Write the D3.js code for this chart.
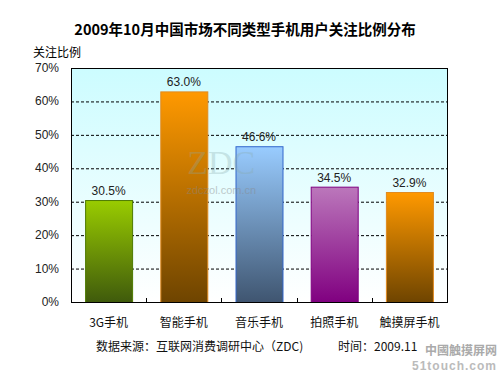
<!DOCTYPE html>
<html>
<head>
<meta charset="utf-8">
<script src="https://cdn.jsdelivr.net/npm/d3@7"></script>
<style>
  body { margin: 0; background: #fff; }
  svg { display: block; font-family: "Liberation Sans", Arial, "Noto Sans CJK SC", sans-serif; }
  .cn { font-family: "Noto Sans CJK SC", "Liberation Sans", sans-serif; }
</style>
</head>
<body>
<svg width="500" height="375"></svg>
<script>
var categories = ["3G手机", "智能手机", "音乐手机", "拍照手机", "触摸屏手机"];
var values = [30.5, 63.0, 46.6, 34.5, 32.9];
var yTicks = [0, 10, 20, 30, 40, 50, 60, 70];

// top colour, bottom colour, border colour for each bar
var barColours = [
  ["#99cc00", "#3f5a0c", "#4d7a00"],
  ["#ff9900", "#6e4400", "#e08a20"],
  ["#99ccff", "#3f5570", "#3366cc"],
  ["#bb77bb", "#800080", "#800080"],
  ["#ff9900", "#6e4400", "#e08a20"]
];

var svg = d3.select("svg"),
  margin = {top: 68, right: 53, bottom: 73, left: 71},
  width = 500 - margin.left - margin.right,
  height = 375 - margin.top - margin.bottom;

var defs = svg.append("defs");

var bg = defs.append("linearGradient").attr("id", "bg")
  .attr("x1", 0).attr("y1", 0).attr("x2", 0).attr("y2", 1);
bg.append("stop").attr("offset", "0%").attr("stop-color", "#ccfcff");
bg.append("stop").attr("offset", "100%").attr("stop-color", "#ffffff");

barColours.forEach(function(c, i) {
  var g = defs.append("linearGradient").attr("id", "bar" + i)
    .attr("x1", 0).attr("y1", 0).attr("x2", 0).attr("y2", 1);
  g.append("stop").attr("offset", "0%").attr("stop-color", c[0]);
  g.append("stop").attr("offset", "100%").attr("stop-color", c[1]);
});

var x = d3.scaleBand()
  .domain(categories)
  .range([0, width])
  .paddingInner(0.375)
  .paddingOuter(0.1875);

var y = d3.scaleLinear()
  .domain([0, 70])
  .range([height, 0]);

// title
svg.append("text")
  .attr("class", "cn")
  .attr("x", 245).attr("y", 35)
  .attr("text-anchor", "middle")
  .style("font-size", "14.5px")
  .style("font-weight", "bold")
  .text("2009年10月中国市场不同类型手机用户关注比例分布");

svg.append("text")
  .attr("class", "cn")
  .attr("x", 33).attr("y", 57)
  .style("font-size", "12px")
  .text("关注比例");

var g = svg.append("g")
  .attr("transform", "translate(" + margin.left + "," + margin.top + ")");

g.append("rect")
  .attr("width", width).attr("height", height)
  .attr("fill", "url(#bg)");

// dashed gridlines
g.append("g").selectAll("line")
  .data(yTicks.filter(function(d) { return d > 0 && d < 70; }))
  .enter().append("line")
  .attr("x1", 0).attr("x2", width)
  .attr("y1", function(d) { return y(d) + 0.5; })
  .attr("y2", function(d) { return y(d) + 0.5; })
  .attr("stroke", "#000")
  .attr("stroke-dasharray", "3,2");

// bars
g.selectAll(".bar")
  .data(values)
  .enter().append("rect")
  .attr("class", "bar")
  .attr("x", function(d, i) { return x(categories[i]) + 0.5; })
  .attr("y", function(d) { return y(d) + 0.5; })
  .attr("width", x.bandwidth())
  .attr("height", function(d) { return height - y(d); })
  .attr("fill", function(d, i) { return "url(#bar" + i + ")"; })
  .attr("stroke", function(d, i) { return barColours[i][2]; });

g.selectAll(".val")
  .data(values)
  .enter().append("text")
  .attr("class", "val")
  .attr("x", function(d, i) { return x(categories[i]) + x.bandwidth() / 2; })
  .attr("y", function(d) { return y(d) - 5; })
  .attr("text-anchor", "middle")
  .style("font-size", "12px")
  .attr("fill", "#222")
  .text(function(d) { return d.toFixed(1) + "%"; });

// ZDC watermark, drawn over the bars
var wmx = x(categories[1]) + x.bandwidth() + 14;
g.append("text")
  .attr("x", wmx).attr("y", 106)
  .attr("text-anchor", "middle")
  .style("font-family", "Liberation Serif, serif")
  .style("font-size", "34px")
  .attr("fill", "#8aa")
  .attr("opacity", 0.3)
  .text("ZDC");
g.append("text")
  .attr("x", wmx).attr("y", 126)
  .attr("text-anchor", "middle")
  .style("font-size", "11px")
  .attr("fill", "#888")
  .attr("opacity", 0.45)
  .text("zdczol.com.cn");

// frame
g.append("rect")
  .attr("x", 0.5).attr("y", 0.5)
  .attr("width", width).attr("height", height)
  .attr("fill", "none")
  .attr("stroke", "#000");

// y axis labels
g.append("g").selectAll("text")
  .data(yTicks)
  .enter().append("text")
  .attr("x", -12)
  .attr("y", function(d) { return y(d) + 4; })
  .attr("text-anchor", "end")
  .style("font-size", "12px")
  .attr("fill", "#222")
  .text(function(d) { return d + "%"; });

// category separator ticks
g.append("g").selectAll("line")
  .data(categories.slice(1))
  .enter().append("line")
  .attr("x1", function(d) { return Math.round(x(d) - x.step() * x.paddingInner() / 2) + 0.5; })
  .attr("x2", function(d) { return Math.round(x(d) - x.step() * x.paddingInner() / 2) + 0.5; })
  .attr("y1", height - 4).attr("y2", height)
  .attr("stroke", "#000");

// category labels
g.append("g").selectAll("text")
  .data(categories)
  .enter().append("text")
  .attr("class", "cn")
  .attr("x", function(d) { return x(d) + x.bandwidth() / 2; })
  .attr("y", height + 25)
  .attr("text-anchor", "middle")
  .style("font-size", "12px")
  .attr("fill", "#111")
  .text(function(d) { return d; });

svg.append("text")
  .attr("class", "cn")
  .attr("x", 96).attr("y", 351)
  .style("font-size", "12px")
  .attr("fill", "#111")
  .text("数据来源：互联网消费调研中心（ZDC)");

svg.append("text")
  .attr("class", "cn")
  .attr("x", 338).attr("y", 351)
  .style("font-size", "12px")
  .attr("fill", "#111")
  .text("时间：2009.11");

// site watermark
svg.append("text")
  .attr("class", "cn")
  .attr("x", 497).attr("y", 355)
  .attr("text-anchor", "end")
  .style("font-size", "12px")
  .style("font-weight", "bold")
  .attr("fill", "#aaa")
  .text("中國触摸屏网");
svg.append("text")
  .attr("x", 497).attr("y", 370)
  .attr("text-anchor", "end")
  .style("font-size", "12px")
  .style("font-weight", "bold")
  .style("letter-spacing", "1px")
  .attr("fill", "#bbb")
  .text("51touch.com");
</script>
</body>
</html>
